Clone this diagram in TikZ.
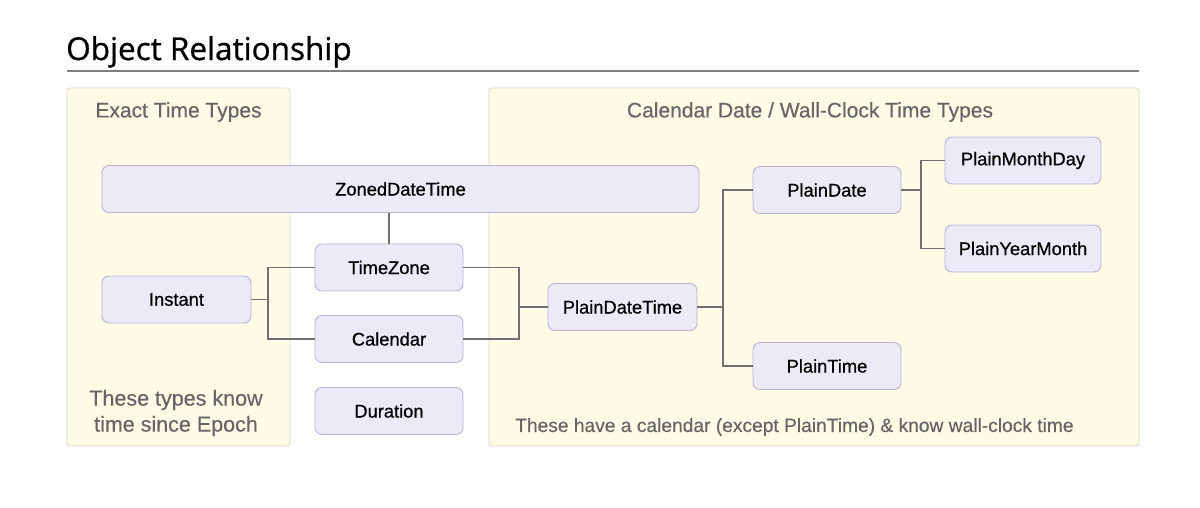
\documentclass[tikz,border=0pt]{standalone}
\usepackage{fontspec}
\setmainfont{Liberation Sans}
\newfontfamily\titlefont[FakeBold=0.8]{Open Sans}
\newfontfamily\boxfont[FakeBold=0.7]{Liberation Sans}
\newfontfamily\notefont[FakeBold=0.5]{Liberation Sans}
\usetikzlibrary{positioning}
\definecolor{panelfill}{HTML}{FEFCE7}
\definecolor{paneldraw}{HTML}{D9D6BF}
\definecolor{boxfill}{HTML}{ECEAF6}
\definecolor{boxdraw}{HTML}{B9B3D6}
\definecolor{wire}{HTML}{707070}
\definecolor{note}{HTML}{666666}

\begin{document}
\begin{tikzpicture}[x=1pt,y=-1pt,
  panel/.style={draw=paneldraw,fill=panelfill,rounded corners=3pt,line width=0.8pt},
  typebox/.style={draw=boxdraw,fill=boxfill,rounded corners=7pt,line width=0.9pt,
    minimum height=47pt,inner sep=0pt,font=\boxfont\fontsize{18.3}{21}\selectfont},
  wirepath/.style={draw=wire,line width=1.1pt},
  heading/.style={text=note,font=\notefont\fontsize{21}{24}\selectfont},
  remark/.style={text=note,font=\notefont\fontsize{21.5}{26}\selectfont,align=center}]
\useasboundingbox (0,0) rectangle (1200,507);
\node [anchor=base west,font=\titlefont\fontsize{31.5}{36}\selectfont,inner sep=0pt] (title) at (66,60) {Object Relationship};
\draw [gray,line width=1.5pt] (67,71) -- (1139,71);
% the two panels
\node [panel,minimum width=223pt,minimum height=358pt] (exact) at (178.5,267) {};
\node [panel,minimum width=650pt,minimum height=358pt] (wall) at (814,267) {};
\node [heading] (exacthead) at (178.5,112) {Exact Time Types};
\node [heading] (wallhead) at (810,112) {Calendar Date / Wall-Clock Time Types};
\node [remark] (exactnote) at (176,413) {These types know\\time since Epoch};
\node [heading,anchor=west,inner sep=0pt,font=\notefont\fontsize{19.2}{22}\selectfont] (wallnote) at (515,427) {These have a calendar (except PlainTime) \& know wall-clock time};
% types
\node [typebox,minimum width=597pt] (zdt) at (400.5,189) {ZonedDateTime};
\node [typebox,minimum width=149pt] (instant) at (176.5,299.5) {Instant};
\node [typebox,minimum width=148pt] (tz) at (389,267.5) {TimeZone};
\node [typebox,minimum width=148pt] (cal) at (389,339) {Calendar};
\node [typebox,minimum width=148pt] (dur) at (389,411) {Duration};
\node [typebox,minimum width=149pt] (pdt) at (622.5,307) {PlainDateTime};
\node [typebox,minimum width=148pt] (pd) at (827,190) {PlainDate};
\node [typebox,minimum width=156pt] (pmd) at (1023,160.5) {PlainMonthDay};
\node [typebox,minimum width=156pt] (pym) at (1023,248.5) {PlainYearMonth};
\node [typebox,minimum width=148pt] (pt) at (827,366) {PlainTime};
% connectors
\coordinate (j1) at (268,299.5);
\coordinate (j2) at (519,307);
\coordinate (j3) at (723,307);
\coordinate (j4) at (921,190);
\draw [wirepath] (zdt.south -| tz.north) -- (tz.north);
\draw [wirepath] (instant.east) -- (j1);
\draw [wirepath] (j1) |- (tz.west);
\draw [wirepath] (j1) |- (cal.west);
\draw [wirepath] (tz.east) -| (j2);
\draw [wirepath] (cal.east) -| (j2);
\draw [wirepath] (j2) -- (pdt.west);
\draw [wirepath] (pdt.east) -- (j3);
\draw [wirepath] (j3) |- (pd.west);
\draw [wirepath] (j3) |- (pt.west);
\draw [wirepath] (pd.east) -- (j4);
\draw [wirepath] (j4) |- (pmd.west);
\draw [wirepath] (j4) |- (pym.west);
\end{tikzpicture}
\end{document}
